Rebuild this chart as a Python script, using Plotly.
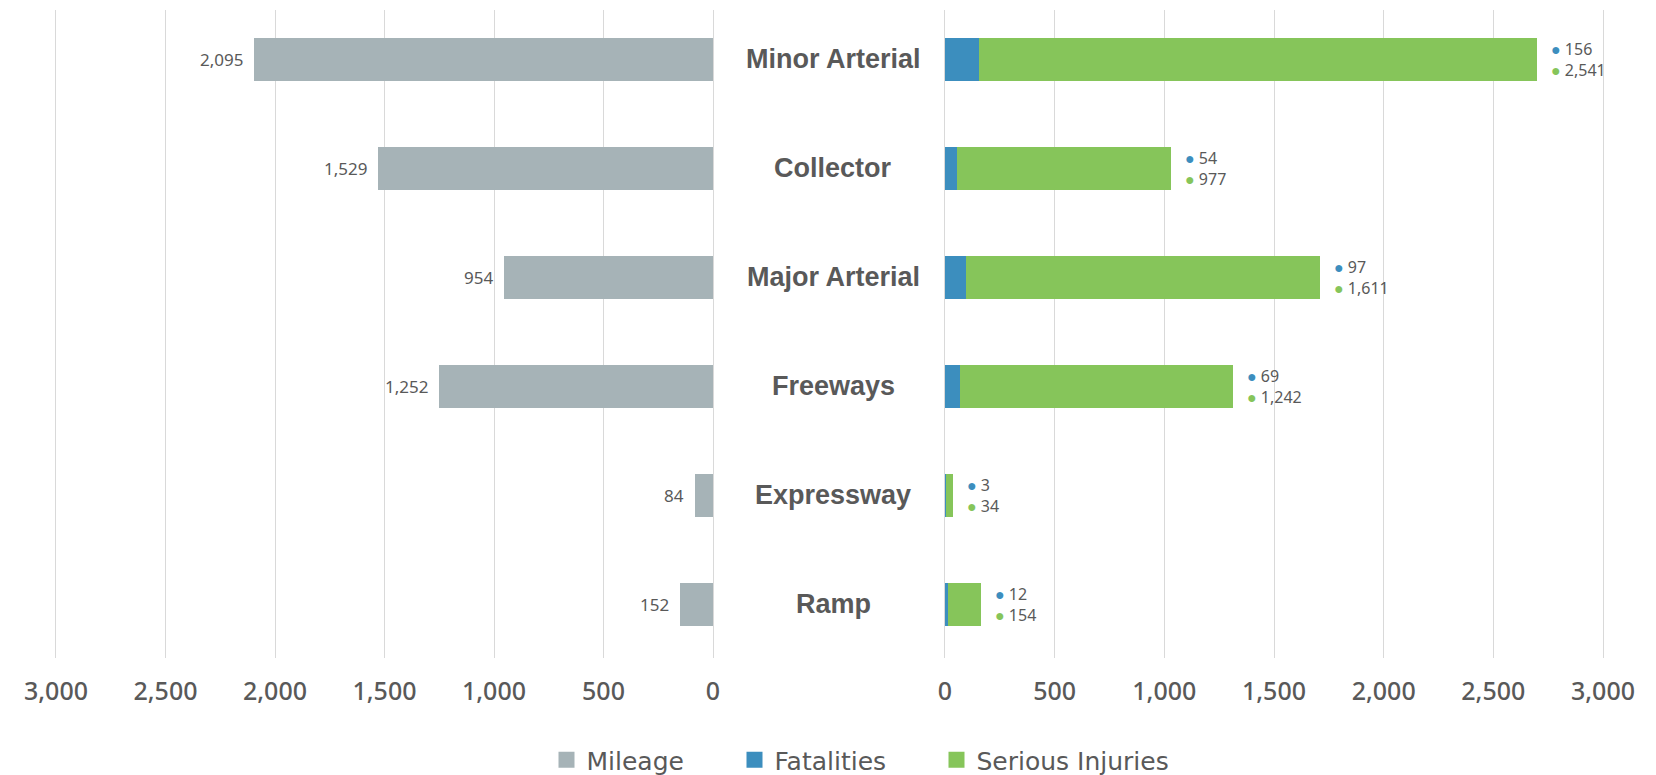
import plotly.graph_objects as go

categories = ["Minor Arterial", "Collector", "Major Arterial", "Freeways", "Expressway", "Ramp"]
mileage = [2095, 1529, 954, 1252, 84, 152]
fatalities = [156, 54, 97, 69, 3, 12]
serious_injuries = [2541, 977, 1611, 1242, 34, 154]
tick_vals = [0, 500, 1000, 1500, 2000, 2500, 3000]
tick_text = ["0", "500", "1,000", "1,500", "2,000", "2,500", "3,000"]
series_names = ["Mileage", "Fatalities", "Serious Injuries"]

C_GRAY = "#A6B3B7"
C_BLUE = "#3C8EBE"
C_GREEN = "#86C55A"
C_TEXT = "#595959"
C_GRID = "#D9D9D9"
W, H = 1656, 775

fig = go.Figure()
fig.add_trace(go.Bar(name=series_names[0], y=categories, x=mileage, orientation="h",
                     marker=dict(color=C_GRAY, line_width=0), width=0.39,
                     xaxis="x", yaxis="y", showlegend=False))
fig.add_trace(go.Bar(name=series_names[1], y=categories, x=fatalities, orientation="h",
                     marker=dict(color=C_BLUE, line_width=0), width=0.39,
                     xaxis="x2", yaxis="y", showlegend=False))
fig.add_trace(go.Bar(name=series_names[2], y=categories, x=serious_injuries, orientation="h",
                     marker=dict(color=C_GREEN, line_width=0), width=0.39,
                     xaxis="x2", yaxis="y", showlegend=False))

# legend entries (square swatches), one small legend per series
legend_ids = ["legend", "legend2", "legend3"]
for name, col, lid in zip(series_names, [C_GRAY, C_BLUE, C_GREEN], legend_ids):
    fig.add_trace(go.Scatter(name=name, x=[None], y=[None], mode="markers",
                             marker=dict(symbol="square", size=16, color=col),
                             xaxis="x2", yaxis="y", hoverinfo="skip", legend=lid))

annotations = []
for cat, m, f, s in zip(categories, mileage, fatalities, serious_injuries):
    annotations.append(dict(x=m, y=cat, xref="x", yref="y", text=f"{m:,}",
                            xanchor="right", xshift=-9, showarrow=False,
                            font=dict(family="Noto Sans", size=17, color=C_TEXT)))
    tot = f + s
    annotations.append(dict(x=tot, y=cat, xref="x2", yref="y",
                            text=(f"<span style='color:{C_BLUE}'>●</span> {f:,}<br>"
                                  f"<span style='color:{C_GREEN}'>●</span> {s:,}"),
                            xanchor="left", align="left", xshift=12, showarrow=False,
                            font=dict(family="Noto Sans", size=16, color=C_TEXT)))
    annotations.append(dict(x=833 / W, y=cat, xref="paper", yref="y", text=cat,
                            xanchor="center", showarrow=False,
                            font=dict(family="Liberation Sans", size=27, color=C_TEXT, weight="bold")))

axis_common = dict(tickvals=tick_vals, ticktext=tick_text, showgrid=True, gridcolor=C_GRID,
                   gridwidth=1, zeroline=False, showline=False, ticks="", automargin=False,
                   tickfont=dict(family="Noto Sans", size=25, color=C_TEXT, weight=500),
                   ticklabelstandoff=16, fixedrange=True)

top_px, bot_px = 10, 658
leg_y = -(760 - bot_px) / (bot_px - top_px)
swatch_centers = [568.5, 756.5, 958.5]
legends = {}
for lid, cx in zip(legend_ids, swatch_centers):
    legends[lid] = dict(orientation="h", x=(cx - 22) / W, xanchor="left", y=leg_y, yanchor="middle",
                        font=dict(family="DejaVu Sans", size=25, color=C_TEXT),
                        itemclick=False, itemdoubleclick=False, bgcolor="rgba(0,0,0,0)",
                        borderwidth=0)

fig.update_layout(
    template="none",
    width=W, height=H,
    margin=dict(l=0, r=0, t=top_px, b=H - bot_px, pad=0, autoexpand=False),
    paper_bgcolor="white", plot_bgcolor="white",
    barmode="stack",
    showlegend=True,
    xaxis=dict(domain=[53.8 / W, 715.2 / W], range=[3010, -10], anchor="y", **axis_common),
    xaxis2=dict(domain=[942.8 / W, 1605.2 / W], range=[-10, 3010], anchor="y", **axis_common),
    yaxis=dict(categoryorder="array", categoryarray=categories, range=[5.491, -0.454],
               showticklabels=False, showgrid=False, zeroline=False, showline=False,
               ticks="", fixedrange=True, automargin=False),
    annotations=annotations,
    **legends,
)

fig.write_html("out.html", config={"displayModeBar": False},
               post_script="document.body.style.margin='0';document.body.style.overflow='hidden';")
